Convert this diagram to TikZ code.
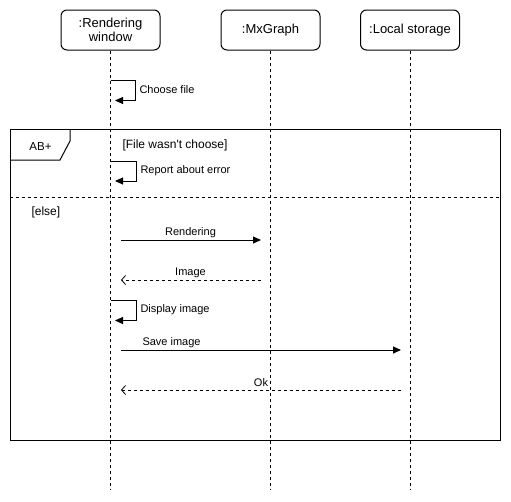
\documentclass[tikz,border=0pt]{standalone}
\usepackage{fontspec}
\setmainfont{Liberation Sans}
\usetikzlibrary{arrows.meta}
\begin{document}
\begin{tikzpicture}[x=1pt,y=-1pt,line width=1pt,
  lifebox/.style={draw,rounded corners=6pt,minimum width=99pt,minimum height=40pt,inner sep=1pt,align=center,font=\fontsize{13}{14.5}\selectfont},
  lifeline/.style={line width=0.8pt,dash pattern=on 3pt off 3pt},
  lbl/.style={inner sep=0pt,font=\fontsize{11}{12}\selectfont},
  lblw/.style={lbl,anchor=west},
  guard/.style={lblw,font=\fontsize{12}{13}\selectfont},
  callmsg/.style={-{Triangle[length=8pt,width=7pt]}},
  retmsg/.style={dash pattern=on 3pt off 3pt,-{Straight Barb[length=4pt,width=9pt,line width=0.8pt]}},
  selfmsg/.style={-{Triangle[length=8pt,width=7pt]}}]
\useasboundingbox (0,0) rectangle (511,501);
% lifeline heads
\node[lifebox] (rw) at (110.5,30) {:Rendering\\window};
\node[lifebox] (mx) at (270.5,30) {:MxGraph};
\node[lifebox] (ls) at (410,30) {:Local storage};
% lifelines
\coordinate (rwend) at (110.5,490);
\coordinate (mxend) at (270.5,490);
\coordinate (lsend) at (410,490);
\draw[lifeline] (rw.south) -- (rwend);
\draw[lifeline] (mx.south) -- (mxend);
\draw[lifeline] (ls.south) -- (lsend);
% frame
\draw (10,129.5) rectangle (500,440);
\coordinate (fa) at (10,129.5);
\coordinate (fb) at (70,129.5);
\coordinate (fc) at (70,141);
\coordinate (fd) at (60,160);
\coordinate (fe) at (10,160);
\draw (fb) -- (fc) -- (fd) -- (fe);
\node[lbl,font=\fontsize{11.5}{12}\selectfont] (ab) at (40.5,147) {AB+};
\coordinate (sepL) at (10,197);
\coordinate (sepR) at (500,197);
\draw[dash pattern=on 3pt off 3pt] (sepL) -- (sepR);
\node[guard] (g1) at (122,145) {[File wasn\textquotesingle t choose]};
\node[guard] (g2) at (31,212) {[else]};
% choose file
\coordinate (s1a) at (110.5,80.5);
\coordinate (s1b) at (135.5,80.5);
\coordinate (s1c) at (135.5,100.5);
\coordinate (s1d) at (115,100.5);
\draw[selfmsg] (s1a) -- (s1b) -- (s1c) -- (s1d);
\node[lblw] (m1) at (139,90) {Choose file};
% report about error
\coordinate (s2a) at (110.5,161);
\coordinate (s2b) at (136.5,161);
\coordinate (s2c) at (136.5,181);
\coordinate (s2d) at (115,181);
\draw[selfmsg] (s2a) -- (s2b) -- (s2c) -- (s2d);
\node[lblw] (m2) at (140,171) {Report about error};
% rendering
\coordinate (r1a) at (121,240);
\coordinate (r1b) at (261,240);
\draw[callmsg] (r1a) -- (r1b);
\node[lbl] (m3) at (190.5,233) {Rendering};
% image
\coordinate (r2a) at (261,280);
\coordinate (r2b) at (121,280);
\draw[retmsg] (r2a) -- (r2b);
\node[lbl] (m4) at (190.5,273) {Image};
% display image
\coordinate (s3a) at (110.5,300.5);
\coordinate (s3b) at (136,300.5);
\coordinate (s3c) at (136,320.5);
\coordinate (s3d) at (115,320.5);
\draw[selfmsg] (s3a) -- (s3b) -- (s3c) -- (s3d);
\node[lblw] (m5) at (140,310) {Display image};
% save image
\coordinate (r3a) at (121,350);
\coordinate (r3b) at (401,350);
\draw[callmsg] (r3a) -- (r3b);
\node[lblw] (m6) at (142,343) {Save image};
% ok
\coordinate (r4a) at (401,390);
\coordinate (r4b) at (121,390);
\draw[retmsg] (r4a) -- (r4b);
\node[lbl] (m7) at (261,383) {Ok};
\end{tikzpicture}
\end{document}
